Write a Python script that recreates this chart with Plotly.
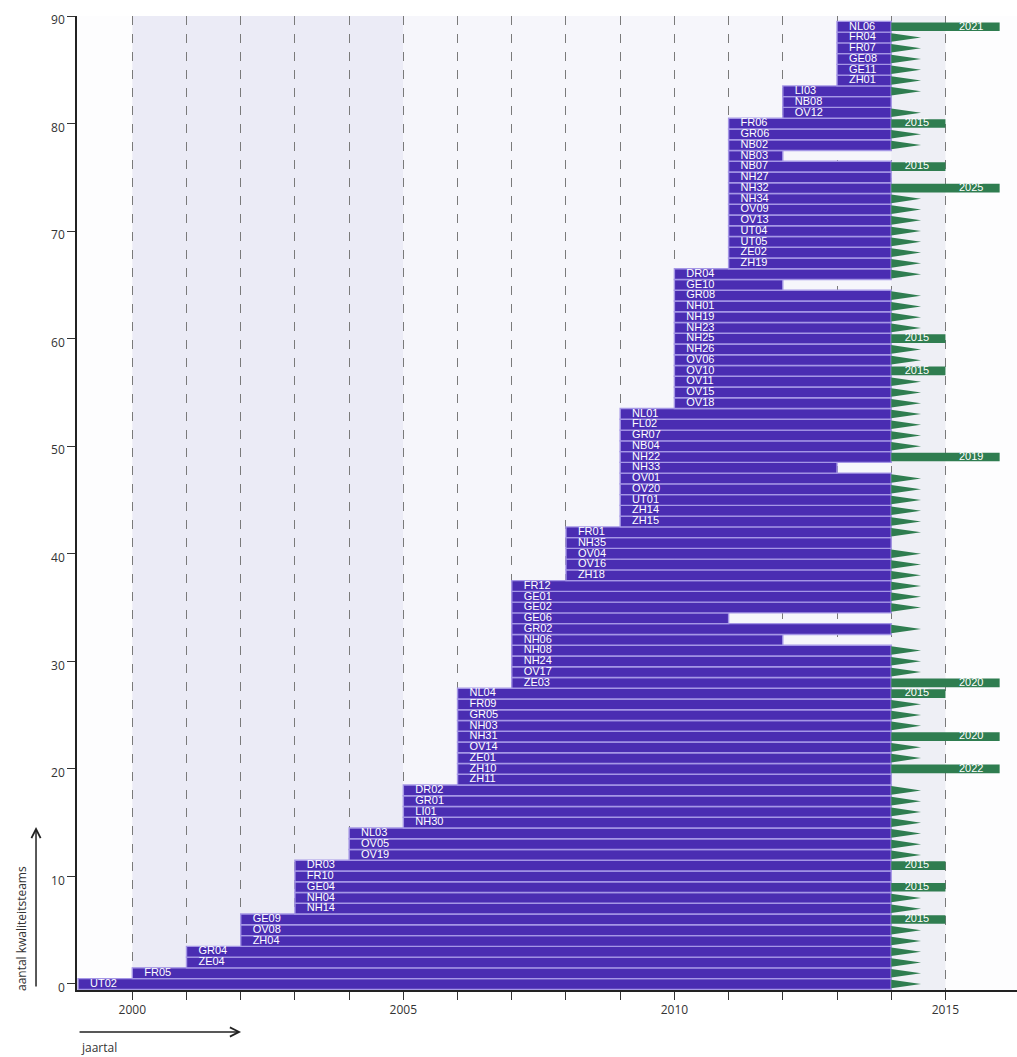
import plotly.graph_objects as go

# ---------------- data (rows from bottom to top) ----------------
teams = ["UT02", "FR05", "ZE04", "GR04", "ZH04", "OV08", "GE09", "NH14", "NH04", "GE04",
         "FR10", "DR03", "OV19", "OV05", "NL03", "NH30", "LI01", "GR01", "DR02", "ZH11",
         "ZH10", "ZE01", "OV14", "NH31", "NH03", "GR05", "FR09", "NL04", "ZE03", "OV17",
         "NH24", "NH08", "NH06", "GR02", "GE06", "GE02", "GE01", "FR12", "ZH18", "OV16",
         "OV04", "NH35", "FR01", "ZH15", "ZH14", "UT01", "OV20", "OV01", "NH33", "NH22",
         "NB04", "GR07", "FL02", "NL01", "OV18", "OV15", "OV11", "OV10", "OV06", "NH26",
         "NH25", "NH23", "NH19", "NH01", "GR08", "GE10", "DR04", "ZH19", "ZE02", "UT05",
         "UT04", "OV13", "OV09", "NH34", "NH32", "NH27", "NB07", "NB03", "NB02", "GR06",
         "FR06", "OV12", "NB08", "LI03", "ZH01", "GE11", "GE08", "FR07", "FR04", "NL06"]

start_year = [1999, 2000, 2001, 2001, 2002, 2002, 2002, 2003, 2003, 2003,
              2003, 2003, 2004, 2004, 2004, 2005, 2005, 2005, 2005, 2006,
              2006, 2006, 2006, 2006, 2006, 2006, 2006, 2006, 2007, 2007,
              2007, 2007, 2007, 2007, 2007, 2007, 2007, 2007, 2008, 2008,
              2008, 2008, 2008, 2009, 2009, 2009, 2009, 2009, 2009, 2009,
              2009, 2009, 2009, 2009, 2010, 2010, 2010, 2010, 2010, 2010,
              2010, 2010, 2010, 2010, 2010, 2010, 2010, 2011, 2011, 2011,
              2011, 2011, 2011, 2011, 2011, 2011, 2011, 2011, 2011, 2011,
              2011, 2012, 2012, 2012, 2013, 2013, 2013, 2013, 2013, 2013]

end_year = [2014, 2014, 2014, 2014, 2014, 2014, 2014, 2014, 2014, 2014,
            2014, 2014, 2014, 2014, 2014, 2014, 2014, 2014, 2014, 2014,
            2014, 2014, 2014, 2014, 2014, 2014, 2014, 2014, 2014, 2014,
            2014, 2014, 2012, 2014, 2011, 2014, 2014, 2014, 2014, 2014,
            2014, 2014, 2014, 2014, 2014, 2014, 2014, 2014, 2013, 2014,
            2014, 2014, 2014, 2014, 2014, 2014, 2014, 2014, 2014, 2014,
            2014, 2014, 2014, 2014, 2014, 2012, 2014, 2014, 2014, 2014,
            2014, 2014, 2014, 2014, 2014, 2014, 2014, 2012, 2014, 2014,
            2014, 2014, 2014, 2014, 2014, 2014, 2014, 2014, 2014, 2014]

# outlook after 2014: "tri" = continuing (triangle), "" = none, year = planned until
outlook = ["tri", "tri", "tri", "tri", "tri", "tri", "2015", "tri", "tri", "2015",
           "", "2015", "tri", "tri", "tri", "tri", "tri", "tri", "tri", "",
           "2022", "tri", "tri", "2020", "tri", "tri", "tri", "2015", "2020", "tri",
           "tri", "tri", "", "tri", "", "tri", "tri", "tri", "tri", "tri",
           "tri", "", "tri", "tri", "tri", "tri", "tri", "tri", "", "2019",
           "tri", "tri", "tri", "tri", "tri", "tri", "tri", "2015", "tri", "tri",
           "2015", "tri", "tri", "tri", "tri", "", "tri", "tri", "tri", "tri",
           "tri", "tri", "tri", "tri", "2025", "", "2015", "", "tri", "tri",
           "2015", "tri", "", "tri", "tri", "tri", "tri", "tri", "tri", "2021"]

x_tick_years = [2000, 2001, 2002, 2003, 2004, 2005, 2006, 2007,
                2008, 2009, 2010, 2011, 2012, 2013, 2014, 2015]
x_tick_labels = ["2000", "", "", "", "", "2005", "", "",
                 "", "", "2010", "", "", "", "", "2015"]
y_tick_vals = [0, 10, 20, 30, 40, 50, 60, 70, 80, 90]

assert len(teams) == len(start_year) == len(end_year) == len(outlook) == 90

# ---------------- styling ----------------
PURPLE = "#4a2db2"
LAVENDER = "#a597e6"
GREEN = "#2f7d50"
X_MAX_SHOWN = 2016
NOW = 2014
LABEL_FONT = dict(color="white", size=11, family="Liberation Sans, Arial, sans-serif")

rows = list(range(len(teams)))

fig = go.Figure()

# purple team bars
fig.add_trace(go.Bar(
    orientation="h", y=rows, base=start_year,
    x=[e - s for s, e in zip(start_year, end_year)],
    width=1.0, marker=dict(color=PURPLE, line=dict(color=LAVENDER, width=1.4)),
    hoverinfo="skip", showlegend=False))

# team labels
fig.add_trace(go.Scatter(
    x=[s + 0.22 for s in start_year], y=rows, mode="text", text=teams,
    textposition="middle right", textfont=LABEL_FONT,
    hoverinfo="skip", showlegend=False, cliponaxis=False))

# green bars with a planned end year
g_rows = [r for r in rows if outlook[r] not in ("", "tri")]
g_end = [min(int(outlook[r]), X_MAX_SHOWN) for r in g_rows]
fig.add_trace(go.Bar(
    orientation="h", y=g_rows, base=[NOW] * len(g_rows),
    x=[e - NOW for e in g_end], width=0.8,
    marker=dict(color=GREEN, line=dict(width=0)),
    hoverinfo="skip", showlegend=False))
fig.add_trace(go.Scatter(
    x=[e - 0.3 for e in g_end], y=g_rows, mode="text",
    text=[outlook[r] for r in g_rows], textposition="middle left",
    textfont=LABEL_FONT, hoverinfo="skip", showlegend=False))

# green triangles (continuing)
tx, ty = [], []
for r in rows:
    if outlook[r] == "tri":
        tx += [NOW, NOW + 0.55, NOW, NOW, None]
        ty += [r - 0.4, r, r + 0.4, r - 0.4, None]
fig.add_trace(go.Scatter(
    x=tx, y=ty, mode="lines", fill="toself", fillcolor=GREEN,
    line=dict(width=0, color=GREEN), hoverinfo="skip", showlegend=False))

# background shading
shapes = [
    dict(type="rect", xref="x", yref="y", x0=2000, x1=2005, y0=-0.56, y1=90,
         fillcolor="#ebebf6", line=dict(width=0), layer="below"),
    dict(type="rect", xref="x", yref="y", x0=2005, x1=2014, y0=-0.56, y1=90,
         fillcolor="#f6f6fb", line=dict(width=0), layer="below"),
    dict(type="rect", xref="x", yref="y", x0=2014, x1=2015, y0=-0.56, y1=90,
         fillcolor="#eeeff5", line=dict(width=0), layer="below"),
]

axis_font = dict(family="Open Sans, Liberation Sans, sans-serif", size=12, color="#333333")

annotations = [
    dict(xref="paper", yref="paper", x=-0.0596, y=0.0636, text="aantal kwaliteitsteams",
         textangle=-90, showarrow=False, font=axis_font, xanchor="center", yanchor="middle"),
    dict(xref="paper", yref="paper", x=-0.0436, y=0.1673, text="", showarrow=True,
         ax=0, ay=161, axref="pixel", ayref="pixel", arrowhead=5, arrowsize=1.2,
         arrowwidth=1.5, arrowcolor="#222222", standoff=0),
    dict(xref="paper", yref="paper", x=0.1745, y=-0.0431, text="", showarrow=True,
         ax=-163, ay=0, axref="pixel", ayref="pixel", arrowhead=5, arrowsize=1.2,
         arrowwidth=1.5, arrowcolor="#222222", standoff=0),
    dict(xref="paper", yref="paper", x=0.002, y=-0.0595, text="jaartal",
         showarrow=False, font=axis_font, xanchor="left", yanchor="middle"),
]

fig.update_layout(
    width=1017, height=1057,
    margin=dict(l=77, r=0, t=16, b=67),
    paper_bgcolor="white", plot_bgcolor="#fdfdfe",
    barmode="overlay", showlegend=False,
    shapes=shapes, annotations=annotations,
    xaxis=dict(range=[1998.98, 2016.32], tickvals=x_tick_years, ticktext=x_tick_labels,
               ticks="outside", ticklen=8, tickcolor="#333333", tickwidth=1,
               showline=True, linecolor="#222222", linewidth=1.5,
               showgrid=True, griddash="dash", gridcolor="#7a7a7a", gridwidth=1,
               zeroline=False, tickfont=axis_font),
    yaxis=dict(range=[-0.56, 90], tickvals=y_tick_vals,
               ticks="outside", ticklen=8, tickcolor="#333333", tickwidth=1,
               showline=True, linecolor="#222222", linewidth=1.5,
               showgrid=False, zeroline=False, tickfont=axis_font,
               ticklabelshift=4),
)

fig.write_html("out.html", config={"displayModeBar": False},
               post_script="document.body.style.margin='0px';")
